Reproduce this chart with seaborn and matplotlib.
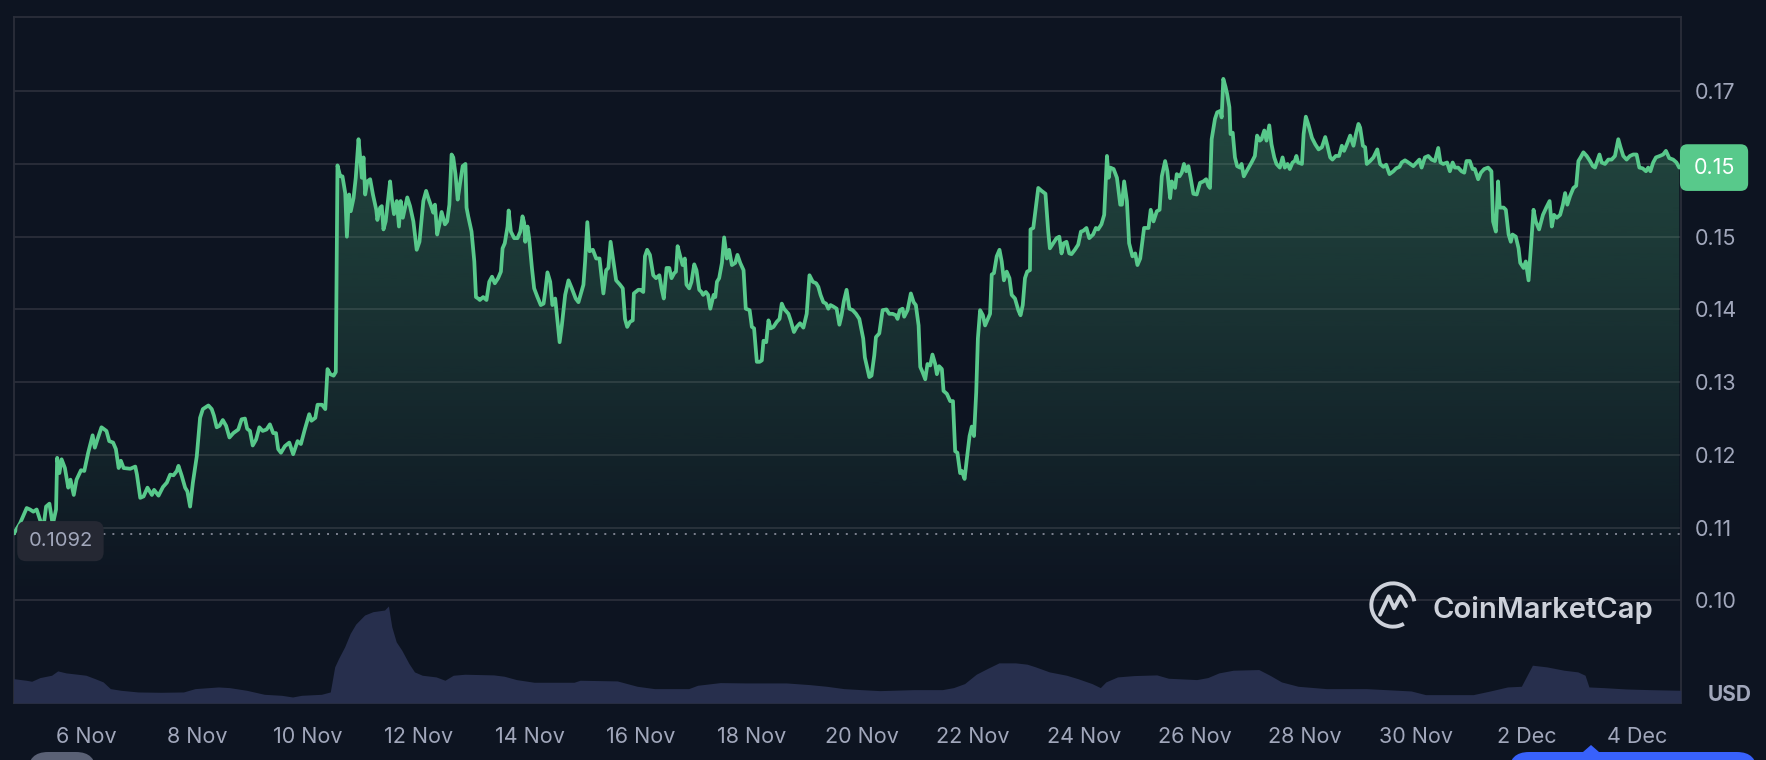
import numpy as np
import pandas as pd
import matplotlib
matplotlib.use('Agg')
import matplotlib.pyplot as plt
import matplotlib.dates as mdates
from matplotlib.colors import LinearSegmentedColormap, to_rgb
from matplotlib.patches import Polygon, Arc, FancyBboxPatch
import seaborn as sns

# price; day is counted from 1 Nov (so 2 Dec = 32)
price_day = [
    4.69, 4.80, 4.92, 4.98, 5.04, 5.10, 5.16, 5.22, 5.27, 5.33, 5.39, 5.45, 5.47, 5.51, 5.55, 5.61,
    5.67, 5.71, 5.77, 5.82, 5.90, 5.96, 6.03, 6.11, 6.15, 6.20, 6.27, 6.36, 6.41, 6.48, 6.53, 6.58,
    6.62, 6.67, 6.79, 6.88, 6.91, 6.97, 7.03, 7.10, 7.18, 7.22, 7.30, 7.38, 7.45, 7.51, 7.57, 7.63,
    7.66, 7.72, 7.78, 7.82, 7.87, 7.92, 7.99, 8.05, 8.10, 8.20, 8.26, 8.30, 8.35, 8.40, 8.46, 8.52,
    8.58, 8.65, 8.74, 8.80, 8.86, 8.90, 8.95, 9.00, 9.06, 9.12, 9.18, 9.25, 9.31, 9.37, 9.42, 9.46,
    9.51, 9.58, 9.66, 9.73, 9.81, 9.87, 9.94, 10.02, 10.06, 10.13, 10.17, 10.25, 10.31, 10.35, 10.40, 10.46,
    10.50, 10.52, 10.53, 10.58, 10.62, 10.67, 10.70, 10.74, 10.77, 10.82, 10.86, 10.91, 10.94, 10.97, 11.00, 11.03,
    11.07, 11.12, 11.17, 11.23, 11.25, 11.30, 11.33, 11.36, 11.40, 11.48, 11.51, 11.55, 11.60, 11.64, 11.67, 11.71,
    11.75, 11.79, 11.84, 11.90, 11.96, 12.01, 12.08, 12.13, 12.17, 12.23, 12.26, 12.29, 12.33, 12.37, 12.41, 12.47,
    12.51, 12.55, 12.59, 12.62, 12.66, 12.70, 12.74, 12.79, 12.84, 12.86, 12.89, 12.95, 13.00, 13.03, 13.07, 13.10,
    13.16, 13.22, 13.27, 13.32, 13.37, 13.43, 13.48, 13.51, 13.55, 13.60, 13.62, 13.66, 13.72, 13.78, 13.83, 13.87,
    13.90, 13.92, 13.96, 13.99, 14.04, 14.08, 14.14, 14.20, 14.25, 14.28, 14.32, 14.37, 14.41, 14.46, 14.49, 14.54,
    14.58, 14.64, 14.70, 14.76, 14.83, 14.88, 14.97, 15.00, 15.04, 15.08, 15.14, 15.20, 15.26, 15.33, 15.38, 15.42,
    15.46, 15.51, 15.56, 15.63, 15.68, 15.72, 15.76, 15.81, 15.86, 15.88, 15.96, 16.00, 16.05, 16.08, 16.12, 16.17,
    16.23, 16.28, 16.34, 16.38, 16.42, 16.47, 16.52, 16.56, 16.61, 16.64, 16.67, 16.71, 16.76, 16.80, 16.83, 16.88,
    16.92, 16.97, 17.01, 17.06, 17.10, 17.13, 17.18, 17.22, 17.26, 17.32, 17.35, 17.38, 17.42, 17.47, 17.51, 17.56,
    17.60, 17.65, 17.71, 17.75, 17.80, 17.86, 17.90, 17.97, 18.01, 18.05, 18.10, 18.15, 18.19, 18.22, 18.27, 18.31,
    18.35, 18.40, 18.46, 18.51, 18.55, 18.59, 18.67, 18.71, 18.77, 18.82, 18.88, 18.94, 19.00, 19.05, 19.11, 19.17,
    19.21, 19.25, 19.30, 19.35, 19.39, 19.43, 19.48, 19.54, 19.59, 19.63, 19.67, 19.72, 19.77, 19.83, 19.89, 19.95,
    20.02, 20.05, 20.13, 20.17, 20.22, 20.25, 20.31, 20.37, 20.44, 20.49, 20.55, 20.61, 20.64, 20.68, 20.73, 20.76,
    20.82, 20.88, 20.93, 20.97, 21.02, 21.05, 21.09, 21.14, 21.18, 21.23, 21.27, 21.32, 21.35, 21.39, 21.44, 21.47,
    21.53, 21.59, 21.64, 21.68, 21.72, 21.77, 21.80, 21.85, 21.89, 21.94, 21.98, 22.02, 22.06, 22.09, 22.13, 22.18,
    22.22, 22.26, 22.31, 22.34, 22.38, 22.43, 22.48, 22.52, 22.56, 22.61, 22.66, 22.70, 22.76, 22.82, 22.86, 22.90,
    22.94, 22.98, 23.03, 23.04, 23.09, 23.12, 23.18, 23.24, 23.31, 23.36, 23.39, 23.45, 23.51, 23.56, 23.60, 23.64,
    23.69, 23.74, 23.78, 23.84, 23.90, 23.95, 23.99, 24.05, 24.10, 24.17, 24.22, 24.26, 24.32, 24.37, 24.42, 24.45,
    24.48, 24.54, 24.60, 24.66, 24.69, 24.73, 24.78, 24.82, 24.88, 24.93, 24.97, 25.02, 25.09, 25.17, 25.21, 25.26,
    25.32, 25.37, 25.41, 25.47, 25.51, 25.56, 25.59, 25.65, 25.68, 25.73, 25.77, 25.81, 25.85, 25.89, 25.93, 25.98,
    26.04, 26.10, 26.16, 26.21, 26.25, 26.28, 26.31, 26.37, 26.41, 26.47, 26.49, 26.52, 26.56, 26.59, 26.63, 26.65,
    26.69, 26.73, 26.77, 26.82, 26.85, 26.89, 26.94, 27.03, 27.09, 27.13, 27.18, 27.21, 27.26, 27.30, 27.35, 27.39,
    27.44, 27.48, 27.54, 27.59, 27.63, 27.68, 27.72, 27.77, 27.81, 27.84, 27.87, 27.94, 27.97, 28.01, 28.06, 28.12,
    28.18, 28.24, 28.30, 28.36, 28.40, 28.45, 28.49, 28.55, 28.61, 28.66, 28.70, 28.75, 28.81, 28.87, 28.92, 28.96,
    28.99, 29.04, 29.08, 29.11, 29.17, 29.23, 29.30, 29.35, 29.41, 29.46, 29.52, 29.59, 29.64, 29.70, 29.74, 29.80,
    29.86, 29.95, 30.01, 30.06, 30.10, 30.16, 30.22, 30.28, 30.34, 30.40, 30.44, 30.49, 30.56, 30.61, 30.66, 30.70,
    30.76, 30.82, 30.87, 30.91, 30.97, 31.02, 31.06, 31.12, 31.17, 31.23, 31.30, 31.36, 31.39, 31.44, 31.48, 31.51,
    31.58, 31.62, 31.67, 31.71, 31.74, 31.80, 31.85, 31.88, 31.94, 31.98, 32.03, 32.07, 32.12, 32.16, 32.22, 32.29,
    32.35, 32.41, 32.45, 32.49, 32.54, 32.60, 32.65, 32.69, 32.73, 32.78, 32.84, 32.89, 32.93, 32.97, 33.02, 33.08,
    33.14, 33.19, 33.23, 33.27, 33.31, 33.35, 33.41, 33.47, 33.53, 33.59, 33.65, 33.69, 33.74, 33.80, 33.86, 33.92,
    33.98, 34.03, 34.09, 34.15, 34.19, 34.23, 34.28, 34.33, 34.40, 34.46, 34.51, 34.57, 34.64, 34.70, 34.75,
]
price_usd = [
    0.1092, 0.1106, 0.1127, 0.1125, 0.1122, 0.1125, 0.1111, 0.1099, 0.1129, 0.1133, 0.1104, 0.1125, 0.1196, 0.1175, 0.1194, 0.1182,
    0.1155, 0.1166, 0.1145, 0.1166, 0.1179, 0.1178, 0.1203, 0.1227, 0.1210, 0.1222, 0.1238, 0.1233, 0.1219, 0.1217, 0.1208, 0.1182,
    0.1192, 0.1182, 0.1181, 0.1184, 0.1173, 0.1141, 0.1143, 0.1155, 0.1145, 0.1152, 0.1144, 0.1156, 0.1162, 0.1173, 0.1172, 0.1178,
    0.1185, 0.1171, 0.1155, 0.1150, 0.1129, 0.1162, 0.1198, 0.1251, 0.1263, 0.1268, 0.1263, 0.1254, 0.1238, 0.1240, 0.1248, 0.1240,
    0.1224, 0.1230, 0.1235, 0.1249, 0.1250, 0.1236, 0.1233, 0.1213, 0.1221, 0.1238, 0.1233, 0.1235, 0.1242, 0.1230, 0.1230, 0.1208,
    0.1203, 0.1212, 0.1217, 0.1201, 0.1219, 0.1215, 0.1235, 0.1256, 0.1247, 0.1251, 0.1269, 0.1269, 0.1263, 0.1318, 0.1311, 0.1309,
    0.1314, 0.1493, 0.1598, 0.1583, 0.1583, 0.1560, 0.1500, 0.1558, 0.1535, 0.1553, 0.1581, 0.1634, 0.1609, 0.1581, 0.1609, 0.1558,
    0.1576, 0.1579, 0.1558, 0.1537, 0.1523, 0.1540, 0.1542, 0.1510, 0.1521, 0.1576, 0.1553, 0.1531, 0.1549, 0.1514, 0.1549, 0.1526,
    0.1540, 0.1554, 0.1542, 0.1521, 0.1482, 0.1493, 0.1549, 0.1563, 0.1553, 0.1540, 0.1533, 0.1544, 0.1503, 0.1517, 0.1534, 0.1517,
    0.1521, 0.1544, 0.1613, 0.1609, 0.1586, 0.1551, 0.1572, 0.1597, 0.1600, 0.1540, 0.1528, 0.1507, 0.1466, 0.1417, 0.1415, 0.1413,
    0.1417, 0.1413, 0.1438, 0.1445, 0.1436, 0.1443, 0.1452, 0.1484, 0.1491, 0.1514, 0.1536, 0.1507, 0.1498, 0.1498, 0.1507, 0.1528,
    0.1519, 0.1493, 0.1514, 0.1498, 0.1457, 0.1429, 0.1417, 0.1406, 0.1408, 0.1424, 0.1451, 0.1438, 0.1406, 0.1415, 0.1392, 0.1355,
    0.1378, 0.1420, 0.1440, 0.1429, 0.1415, 0.1410, 0.1434, 0.1466, 0.1520, 0.1480, 0.1482, 0.1470, 0.1470, 0.1422, 0.1454, 0.1457,
    0.1493, 0.1466, 0.1440, 0.1434, 0.1429, 0.1387, 0.1376, 0.1383, 0.1385, 0.1422, 0.1427, 0.1427, 0.1424, 0.1473, 0.1482, 0.1475,
    0.1447, 0.1443, 0.1447, 0.1429, 0.1415, 0.1457, 0.1457, 0.1443, 0.1450, 0.1452, 0.1487, 0.1475, 0.1461, 0.1470, 0.1434, 0.1429,
    0.1438, 0.1462, 0.1454, 0.1427, 0.1424, 0.1420, 0.1424, 0.1420, 0.1401, 0.1420, 0.1417, 0.1438, 0.1443, 0.1464, 0.1499, 0.1470,
    0.1482, 0.1461, 0.1464, 0.1475, 0.1464, 0.1454, 0.1401, 0.1399, 0.1376, 0.1374, 0.1328, 0.1328, 0.1330, 0.1357, 0.1355, 0.1385,
    0.1374, 0.1376, 0.1383, 0.1387, 0.1408, 0.1401, 0.1394, 0.1385, 0.1369, 0.1376, 0.1381, 0.1375, 0.1394, 0.1447, 0.1438, 0.1436,
    0.1431, 0.1420, 0.1410, 0.1408, 0.1401, 0.1406, 0.1404, 0.1401, 0.1379, 0.1392, 0.1411, 0.1427, 0.1401, 0.1399, 0.1394, 0.1387,
    0.1360, 0.1334, 0.1307, 0.1309, 0.1337, 0.1362, 0.1367, 0.1399, 0.1400, 0.1394, 0.1394, 0.1392, 0.1387, 0.1399, 0.1401, 0.1390,
    0.1399, 0.1422, 0.1410, 0.1406, 0.1378, 0.1321, 0.1314, 0.1304, 0.1325, 0.1323, 0.1338, 0.1325, 0.1311, 0.1322, 0.1318, 0.1288,
    0.1284, 0.1274, 0.1274, 0.1205, 0.1203, 0.1175, 0.1178, 0.1167, 0.1194, 0.1226, 0.1239, 0.1226, 0.1286, 0.1360, 0.1399, 0.1392,
    0.1378, 0.1385, 0.1394, 0.1448, 0.1450, 0.1473, 0.1482, 0.1466, 0.1440, 0.1452, 0.1443, 0.1420, 0.1415, 0.1399, 0.1392, 0.1406,
    0.1443, 0.1452, 0.1454, 0.1510, 0.1512, 0.1530, 0.1567, 0.1563, 0.1559, 0.1507, 0.1484, 0.1491, 0.1498, 0.1500, 0.1477, 0.1491,
    0.1493, 0.1477, 0.1476, 0.1482, 0.1489, 0.1507, 0.1508, 0.1512, 0.1498, 0.1503, 0.1512, 0.1510, 0.1517, 0.1530, 0.1611, 0.1581,
    0.1595, 0.1593, 0.1581, 0.1544, 0.1544, 0.1576, 0.1549, 0.1491, 0.1473, 0.1477, 0.1461, 0.1470, 0.1512, 0.1512, 0.1537, 0.1521,
    0.1535, 0.1537, 0.1583, 0.1604, 0.1590, 0.1553, 0.1576, 0.1567, 0.1586, 0.1583, 0.1588, 0.1600, 0.1590, 0.1597, 0.1581, 0.1559,
    0.1558, 0.1574, 0.1576, 0.1579, 0.1570, 0.1567, 0.1634, 0.1662, 0.1671, 0.1673, 0.1664, 0.1717, 0.1706, 0.1696, 0.1678, 0.1641,
    0.1643, 0.1609, 0.1597, 0.1595, 0.1600, 0.1583, 0.1590, 0.1602, 0.1611, 0.1639, 0.1632, 0.1634, 0.1646, 0.1632, 0.1653, 0.1627,
    0.1609, 0.1600, 0.1595, 0.1609, 0.1595, 0.1600, 0.1593, 0.1602, 0.1604, 0.1611, 0.1602, 0.1600, 0.1641, 0.1665, 0.1653, 0.1636,
    0.1627, 0.1620, 0.1623, 0.1637, 0.1625, 0.1609, 0.1606, 0.1611, 0.1611, 0.1625, 0.1618, 0.1627, 0.1639, 0.1625, 0.1643, 0.1655,
    0.1650, 0.1625, 0.1623, 0.1600, 0.1604, 0.1609, 0.1620, 0.1600, 0.1596, 0.1599, 0.1586, 0.1590, 0.1594, 0.1596, 0.1602, 0.1605,
    0.1602, 0.1597, 0.1602, 0.1606, 0.1595, 0.1609, 0.1611, 0.1606, 0.1604, 0.1622, 0.1602, 0.1600, 0.1602, 0.1590, 0.1602, 0.1595,
    0.1595, 0.1590, 0.1588, 0.1604, 0.1604, 0.1593, 0.1593, 0.1579, 0.1588, 0.1593, 0.1595, 0.1590, 0.1521, 0.1507, 0.1576, 0.1540,
    0.1540, 0.1537, 0.1503, 0.1493, 0.1503, 0.1500, 0.1484, 0.1464, 0.1457, 0.1466, 0.1440, 0.1484, 0.1537, 0.1521, 0.1510, 0.1530,
    0.1540, 0.1549, 0.1514, 0.1530, 0.1526, 0.1530, 0.1544, 0.1560, 0.1544, 0.1556, 0.1567, 0.1570, 0.1604, 0.1609, 0.1616, 0.1611,
    0.1604, 0.1597, 0.1595, 0.1604, 0.1613, 0.1602, 0.1600, 0.1606, 0.1606, 0.1611, 0.1634, 0.1623, 0.1611, 0.1606, 0.1611, 0.1613,
    0.1613, 0.1595, 0.1594, 0.1590, 0.1595, 0.1590, 0.1602, 0.1609, 0.1611, 0.1613, 0.1618, 0.1608, 0.1606, 0.1602, 0.1595,
]

# trading volume, relative bar height
vol_day = [
    4.67, 4.91, 5.01, 5.16, 5.37, 5.48, 5.63, 5.84, 5.99, 6.15, 6.30, 6.43, 6.62, 6.93, 7.34, 7.75,
    7.96, 8.38, 8.58, 8.89, 9.21, 9.52, 9.72, 9.88, 10.24, 10.40, 10.48, 10.55, 10.66, 10.76, 10.86, 11.02,
    11.17, 11.38, 11.45, 11.51, 11.59, 11.69, 11.82, 11.92, 12.06, 12.31, 12.47, 12.62, 12.83, 13.35, 13.54, 13.76,
    14.08, 14.80, 14.91, 15.58, 15.94, 16.25, 16.87, 17.03, 17.44, 17.91, 18.63, 19.05, 19.36, 19.67, 19.98, 20.32,
    20.94, 21.45, 21.65, 21.85, 22.06, 22.26, 22.47, 22.77, 22.98, 23.13, 23.38, 23.69, 23.89, 24.15, 24.30, 24.40,
    24.61, 24.91, 25.32, 25.53, 26.04, 26.24, 26.44, 26.70, 27.16, 27.36, 27.57, 27.87, 28.38, 29.10, 29.91, 30.17,
    31.03, 31.34, 31.65, 31.90, 32.10, 32.36, 32.67, 32.92, 33.05, 33.12, 33.38, 33.79, 34.20, 34.78,
]
vol_rel = [
    73, 68, 65, 76, 83, 96, 90, 86, 83, 73, 63, 43, 38, 33, 32, 33,
    43, 48, 46, 38, 26, 23, 18, 23, 26, 33, 108, 133, 168, 208, 236, 263,
    273, 278, 290, 228, 183, 158, 118, 93, 83, 78, 68, 83, 86, 84, 80, 70,
    62, 62, 68, 66, 50, 43, 43, 53, 61, 60, 60, 55, 50, 43, 40, 37,
    40, 40, 46, 58, 86, 103, 120, 120, 116, 108, 93, 83, 73, 58, 46, 63,
    78, 82, 84, 74, 70, 76, 90, 98, 100, 83, 63, 50, 43, 43, 36, 25,
    25, 36, 48, 50, 113, 108, 98, 93, 83, 48, 46, 42, 40, 38,
]

start_price = 0.1092
start_text = '0.1092'
last_text = '0.15'
ytick_vals = [0.10, 0.11, 0.12, 0.13, 0.14, 0.15, 0.16, 0.17]
ytick_text = ['0.10', '0.11', '0.12', '0.13', '0.14', '0.15', '', '0.17']
xtick_day = [6, 8, 10, 12, 14, 16, 18, 20, 22, 24, 26, 28, 30, 32, 34]
xtick_text = ['6 Nov', '8 Nov', '10 Nov', '12 Nov', '14 Nov', '16 Nov', '18 Nov', '20 Nov',
              '22 Nov', '24 Nov', '26 Nov', '28 Nov', '30 Nov', '2 Dec', '4 Dec']

bg = '#0d1421'
green = '#58c98b'
grid_c = '#2a2e3a'
txt_c = '#a1a7bb'
vol_c = '#272f4d'

sns.set_theme(style='dark', rc={'axes.facecolor': bg, 'figure.facecolor': bg,
                                'axes.edgecolor': grid_c, 'text.color': txt_c})
plt.rcParams['font.family'] = ['Inter', 'DejaVu Sans']

base = pd.Timestamp('2023-11-01')


def to_time(days):
    return base + pd.to_timedelta(np.asarray(days, dtype=float) - 1, unit='D')


df = pd.DataFrame({'time': to_time(price_day), 'price': price_usd})
dv = pd.DataFrame({'time': to_time(vol_day), 'vol': vol_rel})

W, H = 1766, 760
fig = plt.figure(figsize=(W / 100, H / 100), dpi=100)
rect = [13.5 / W, 57 / H, (1681 - 13.5) / W, 686 / H]
ax = fig.add_axes(rect)
ax.set_facecolor(bg)

sns.lineplot(data=df, x='time', y='price', ax=ax, color=green, linewidth=2.7,
             estimator=None, zorder=4)

xlo, xhi = to_time([4.682, 34.782])
ylo, yhi = 0.0859, 0.1802

# fading green area under the line
xn = mdates.date2num(df['time'])
r, g, b = to_rgb(green)
fade = LinearSegmentedColormap.from_list('fade', [(r, g, b, 0.0), (r, g, b, 0.31)])
im = ax.imshow(np.linspace(0, 1, 256).reshape(-1, 1), cmap=fade, origin='lower', aspect='auto',
               extent=[xn[0], xn[-1], 0.10, 0.1725], zorder=2)
clip = Polygon([(xn[0], ylo)] + list(zip(xn, df['price'])) + [(xn[-1], ylo)],
               closed=True, transform=ax.transData, facecolor='none', edgecolor='none')
ax.add_patch(clip)
im.set_clip_path(clip)

ax.axhline(start_price, color='#7d8290', lw=1.4, ls=(0, (1, 3.6)), zorder=3)

# volume strip on a twin axis
ax2 = ax.twinx()
ax2.fill_between(dv['time'], dv['vol'], 0, color=vol_c, lw=0)
ax2.set_ylim(0, max(vol_rel) * 686 / 97)
ax2.set_yticks([])
ax2.grid(False)
for s in ax2.spines.values():
    s.set_visible(False)

ax.set_xlim(xlo, xhi)
ax.set_ylim(ylo, yhi)
ax.set_yticks(ytick_vals)
ax.set_yticklabels(ytick_text)
ax.yaxis.tick_right()
ax.set_xticks(to_time(xtick_day))
ax.set_xticklabels(xtick_text)
ax.grid(axis='y', color=grid_c, lw=1.3, zorder=1)
ax.grid(axis='x', visible=False)
ax.tick_params(axis='y', which='both', left=False, right=False, labelleft=False, labelright=True,
               length=0, pad=10, labelsize=15.5, labelcolor=txt_c)
ax.tick_params(axis='x', length=0, pad=17, labelsize=15.5, labelcolor=txt_c)
ax.set_xlabel('')
ax.set_ylabel('')
for s in ax.spines.values():
    s.set_visible(True)
    s.set_color(grid_c)
    s.set_linewidth(1.3)

# first price and last price labels
ax.annotate(start_text, xy=(0, start_price), xycoords=('axes fraction', 'data'),
            xytext=(33.8, -5.5), textcoords='offset points', ha='center', va='center',
            fontsize=14.5, color=txt_c, zorder=6,
            bbox=dict(boxstyle='round,pad=0.55,rounding_size=0.45', fc='#252833', ec='none'))
ax2.annotate(last_text, xy=(1, price_usd[-1]), xycoords=ax.get_yaxis_transform(),
             xytext=(23.8, 0), textcoords='offset points', ha='center', va='center',
             fontsize=15.5, color='white', annotation_clip=False,
             bbox=dict(boxstyle='round,pad=0.62,rounding_size=0.35', fc=green, ec='none'))

fig.text(1730 / W, 1 - 695 / H, 'USD', fontsize=15, fontweight='bold', color=txt_c,
         ha='center', va='center')

# CoinMarketCap watermark
la = fig.add_axes([(1393 - 26) / W, 1 - (605 + 26) / H, 52 / W, 52 / H])
la.set_xlim(-1.2, 1.2)
la.set_ylim(-1.2, 1.2)
la.axis('off')
la.patch.set_alpha(0)
la.add_patch(Arc((0, 0), 2, 2, theta1=10, theta2=300, color='#cdd1da', lw=2.8))
la.plot([-0.6, -0.2, 0.05, 0.35, 0.6], [-0.45, 0.4, -0.15, 0.4, -0.05],
        color='#cdd1da', lw=2.8, solid_joinstyle='round', solid_capstyle='round')
fig.text(1433 / W, 1 - 610 / H, 'CoinMarketCap', fontsize=21, fontweight='semibold',
         color='#cdd1da', ha='left', va='center')

# cut-off controls at the bottom edge
fig.add_artist(FancyBboxPatch((28, -40), 68, 48, boxstyle='round,pad=0,rounding_size=20',
                              transform=None, fc='#5a6175', ec='none'))
fig.add_artist(FancyBboxPatch((1509, -40), 248, 48, boxstyle='round,pad=0,rounding_size=20',
                              transform=None, fc='#3861fb', ec='none'))
fig.add_artist(Polygon([(1583, 8), (1591, 15), (1599, 8)], closed=True, transform=None,
                       fc='#3861fb', ec='none'))

fig.savefig('out.png', dpi=100, facecolor=bg)
